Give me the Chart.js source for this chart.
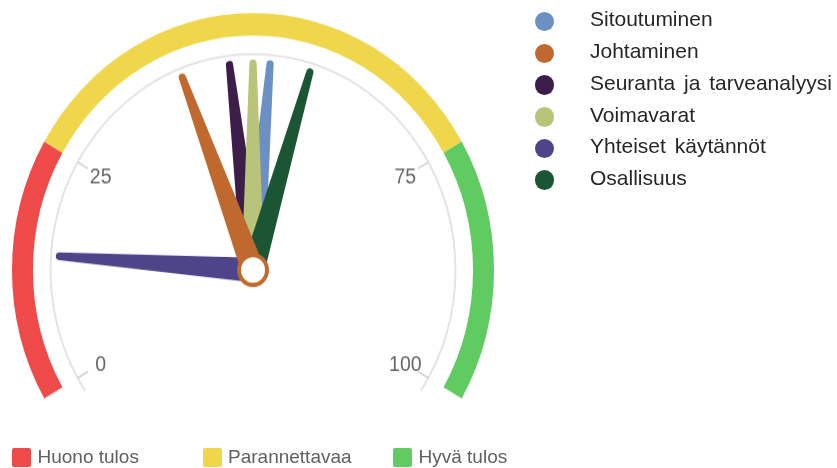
<!DOCTYPE html>
<html>
<head>
<meta charset="utf-8">
<script src="https://cdn.jsdelivr.net/npm/chart.js@4.4.1/dist/chart.umd.min.js"></script>
<style>
html,body{margin:0;padding:0;background:#fff;overflow:hidden;width:837px;height:468px;}
#wrap{position:absolute;left:0;top:0;width:837px;height:439px;transform:scaleY(1.0661);transform-origin:0 0;}
canvas{display:block;}
.lg{position:absolute;font-family:"Liberation Sans",Arial,sans-serif;white-space:nowrap;}
.dot{position:absolute;border-radius:50%;}
.sq{position:absolute;border-radius:2px;}
</style>
</head>
<body>
<div id="wrap"><canvas id="c" width="837" height="439"></canvas></div>
<div id="legendR"></div>
<div id="legendB"></div>
<script>
// ---- data ----
const bandLabels = ['Huono tulos', 'Parannettavaa', 'Hyvä tulos'];
const bandFrom = [0, 25, 75];
const bandTo = [25, 75, 100];
const bandColors = ['#EF4A4A', '#EFD64A', '#5FCB60'];

const seriesNames = ['Sitoutuminen', 'Johtaminen', 'Seuranta ja tarveanalyysi', 'Voimavarat', 'Yhteiset käytännöt', 'Osallisuus'];
const seriesValues = [52.1, 41.1, 47.1, 50.0, 14.1, 57.1];
const seriesColors = ['#6C8FC4', '#C0692F', '#3D1E4B', '#B9C47B', '#4E4489', '#1C5533'];
const drawOrder = [0, 2, 3, 4, 5, 1];

const tickValues = [0, 25, 75, 100];
const tickLabels = ['0', '25', '75', '100'];

// ---- gauge plugin: draws axis, ticks, labels, needles from values ----
const gaugePlugin = {
  id: 'gaugeDial',
  afterDatasetsDraw(chart) {
    const ctx = chart.ctx;
    const arcs = chart.getDatasetMeta(0).data;
    const first = arcs[0], last = arcs[arcs.length - 1];
    const cx = first.x, cy = first.y, R = first.outerRadius;
    const a0 = first.startAngle, a1 = last.endAngle;
    const vMin = bandFrom[0], vMax = bandTo[bandTo.length - 1];
    const ang = v => a0 + (a1 - a0) * (v - vMin) / (vMax - vMin);
    const deg = Math.PI / 180;
    ctx.save();
    // axis line
    const rAxis = R * 0.84;
    ctx.strokeStyle = '#e4e4e4';
    ctx.lineWidth = 2;
    ctx.beginPath();
    ctx.arc(cx, cy, rAxis, a0 - 4 * deg, a1 + 4 * deg);
    ctx.stroke();
    // ticks + labels
    ctx.strokeStyle = '#cfcfcf';
    ctx.lineWidth = 1.5;
    ctx.fillStyle = '#666666';
    ctx.font = '19.5px "Liberation Sans", Arial, sans-serif';
    ctx.textAlign = 'center';
    ctx.textBaseline = 'middle';
    tickValues.forEach((v, i) => {
      const t = ang(v);
      const c = Math.cos(t), s = Math.sin(t);
      ctx.beginPath();
      ctx.moveTo(cx + c * rAxis, cy + s * rAxis);
      ctx.lineTo(cx + c * (rAxis - 12), cy + s * (rAxis - 12));
      ctx.stroke();
      const rl = R * 0.73;
      ctx.fillText(tickLabels[i], cx + c * rl, cy + s * rl + 1);
    });
    // needles
    const L = R * 0.805, hb = 11.5, ht = 3.6;
    drawOrder.forEach(i => {
      const t = ang(seriesValues[i]);
      const dx = Math.cos(t), dy = Math.sin(t);
      const px = -dy, py = dx;
      const tx = cx + dx * L, ty = cy + dy * L;
      ctx.fillStyle = seriesColors[i];
      ctx.beginPath();
      ctx.moveTo(cx + px * hb, cy + py * hb);
      ctx.lineTo(tx + px * ht, ty + py * ht);
      ctx.arc(tx, ty, ht, t + Math.PI / 2, t - Math.PI / 2, true);
      ctx.lineTo(cx - px * hb, cy - py * hb);
      ctx.arc(cx, cy, hb, t - Math.PI / 2, t + Math.PI / 2, true);
      ctx.closePath();
      ctx.fill();
    });
    // pivot
    const top = drawOrder[drawOrder.length - 1];
    ctx.beginPath();
    ctx.arc(cx, cy, 14, 0, Math.PI * 2);
    ctx.fillStyle = '#ffffff';
    ctx.fill();
    ctx.lineWidth = 4;
    ctx.strokeStyle = seriesColors[top];
    ctx.stroke();
    ctx.restore();
  }
};

new Chart(document.getElementById('c'), {
  type: 'doughnut',
  data: {
    labels: bandLabels,
    datasets: [{
      data: bandFrom.map((f, i) => bandTo[i] - f),
      backgroundColor: bandColors,
      borderWidth: 0,
      hoverOffset: 0
    }]
  },
  options: {
    responsive: false,
    animation: false,
    events: [],
    rotation: -120,
    circumference: 240,
    cutout: '91.3%',
    layout: { padding: { left: 12, right: 343, top: 12.3, bottom: 65.2 } },
    plugins: { legend: { display: false }, tooltip: { enabled: false } }
  },
  plugins: [gaugePlugin]
});

// ---- legends (HTML text) ----
const lr = document.getElementById('legendR');
seriesNames.forEach((n, i) => {
  const base = 26.7 + 31.7 * i;
  const d = document.createElement('span');
  d.className = 'dot';
  d.style.cssText = `left:${544.3 - 9.75}px;top:${base - 5 - 9.75}px;width:19.5px;height:19.5px;background:${seriesColors[i]};`;
  lr.appendChild(d);
  const t = document.createElement('div');
  t.className = 'lg';
  t.textContent = n;
  t.style.cssText = `left:590px;top:${base - 19.3}px;font-size:21px;line-height:24px;word-spacing:3px;color:#262626;`;
  lr.appendChild(t);
});
const lb = document.getElementById('legendB');
bandLabels.forEach((n, i) => {
  const x = 12 + 190.5 * i;
  const s = document.createElement('span');
  s.className = 'sq';
  s.style.cssText = `left:${x}px;top:447.5px;width:19px;height:19px;background:${bandColors[i]};`;
  lb.appendChild(s);
  const t = document.createElement('div');
  t.className = 'lg';
  t.textContent = n;
  t.style.cssText = `left:${x + 25.5}px;top:445.4px;font-size:19px;line-height:24px;color:#606060;`;
  lb.appendChild(t);
});
</script>
</body>
</html>
